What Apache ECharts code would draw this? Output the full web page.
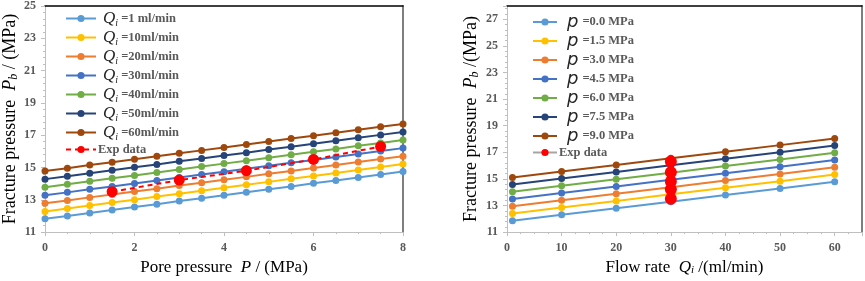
<!DOCTYPE html>
<html>
<head>
<meta charset="utf-8">
<script src="https://cdn.jsdelivr.net/npm/echarts@6/dist/echarts.min.js"></script>
<style>html,body{margin:0;padding:0;background:#fff}#c{width:865px;height:281px}</style>
</head>
<body>
<div id="c"></div>
<script>
// ---------- Left chart data ----------
var porePressure = [0,0.5,1,1.5,2,2.5,3,3.5,4,4.5,5,5.5,6,6.5,7,7.5,8];
var leftNames = ['=1 ml/min','=10ml/min','=20ml/min','=30ml/min','=40ml/min','=50ml/min','=60ml/min'];
var q1  = [11.82,12.00,12.18,12.37,12.55,12.73,12.92,13.10,13.28,13.47,13.65,13.83,14.02,14.20,14.38,14.57,14.75];
var q10 = [12.28,12.46,12.65,12.83,13.01,13.20,13.38,13.56,13.75,13.93,14.11,14.30,14.48,14.66,14.85,15.03,15.21];
var q20 = [12.78,12.96,13.15,13.33,13.51,13.69,13.88,14.06,14.24,14.42,14.61,14.79,14.97,15.15,15.34,15.52,15.70];
var q30 = [13.28,13.46,13.65,13.83,14.01,14.19,14.38,14.56,14.74,14.92,15.11,15.29,15.47,15.65,15.84,16.02,16.20];
var q40 = [13.78,13.96,14.15,14.33,14.51,14.69,14.88,15.06,15.24,15.42,15.61,15.79,15.97,16.15,16.34,16.52,16.70];
var q50 = [14.28,14.46,14.65,14.83,15.01,15.19,15.38,15.56,15.74,15.92,16.11,16.29,16.47,16.65,16.84,17.02,17.20];
var q60 = [14.78,14.96,15.15,15.33,15.51,15.69,15.88,16.06,16.24,16.42,16.61,16.79,16.97,17.15,17.34,17.52,17.70];
var expP = [1.5,3,4.5,6,7.5];
var expPb = [13.50,14.22,14.80,15.50,16.30];

// ---------- Right chart data ----------
var flowRate = [1,10,20,30,40,50,60];
var rightNames = ['=0.0 MPa','=1.5 MPa','=3.0 MPa','=4.5 MPa','=6.0 MPa','=7.5 MPa','=9.0 MPa'];
var p00 = [11.85,12.30,12.79,13.29,13.79,14.28,14.78];
var p15 = [12.40,12.85,13.34,13.84,14.34,14.83,15.33];
var p30 = [12.94,13.39,13.88,14.38,14.88,15.37,15.87];
var p45 = [13.49,13.94,14.43,14.93,15.43,15.92,16.42];
var p60 = [14.03,14.48,14.97,15.47,15.97,16.46,16.96];
var p75 = [14.58,15.03,15.52,16.02,16.52,17.01,17.51];
var p90 = [15.11,15.56,16.05,16.55,17.05,17.54,18.04];
var expQ = [30,30,30,30,30];
var expPb2 = [13.50,14.22,14.80,15.50,16.30];

var leftXTicks = [0,2,4,6,8];
var leftYTicks = [11,13,15,17,19,21,23,25];
var rightXTicks = [0,10,20,30,40,50,60];
var rightYTicks = [11,13,15,17,19,21,23,25,27];

var colors = ['#5B9BD5','#FFC000','#ED7D31','#4472C4','#70AD47','#264478','#9E480E'];
var SERIF = '"Liberation Serif","Times New Roman",serif';

function pairs(xs, ys){ return xs.map(function(x,i){ return [x, ys[i]]; }); }

var chart = echarts.init(document.getElementById('c'), null, {renderer:'canvas'});

var tickLabel = {fontFamily:SERIF, fontWeight:'bold', fontSize:12, color:'#595959'};
function mainX(grid, min, max, interval, nameRich, name, gap){
  return {
    type:'value', gridIndex:grid, min:min, max:max, interval:interval,
    axisLine:{show:true, lineStyle:{color:'#bfbfbf', width:1}},
    axisTick:{show:true, length:4, lineStyle:{color:'#bfbfbf'}},
    minorTick:{show:true, splitNumber:4, length:2, lineStyle:{color:'#bfbfbf'}},
    splitLine:{show:false},
    axisLabel:Object.assign({margin:10, showMaxLabel: max===8}, tickLabel),
    name:name, nameLocation:'middle', nameGap:gap,
    nameTextStyle:{fontFamily:SERIF, fontSize:17, color:'#000', rich:nameRich}
  };
}
function mainY(grid, min, max, nameStr, gap, hideMax){
  return {
    type:'value', gridIndex:grid, min:min, max:max, interval:2,
    axisLine:{show:true, lineStyle:{color:'#bfbfbf', width:1}},
    axisTick:{show:true, length:4, lineStyle:{color:'#bfbfbf'}},
    minorTick:{show:true, splitNumber:5, length:2, lineStyle:{color:'#bfbfbf'}},
    splitLine:{show:false},
    axisLabel:Object.assign({margin:9, showMaxLabel:!hideMax}, tickLabel),
    name:nameStr, nameLocation:'middle', nameGap:gap, nameRotate:90,
    nameTextStyle:{fontFamily:SERIF, fontSize:18, color:'#000', rich:{
      a:{fontFamily:SERIF, fontSize:18, color:'#000', lineHeight:20},
      b:{fontFamily:SERIF, fontSize:18, fontStyle:'italic', color:'#000', lineHeight:20},
      c:{fontFamily:SERIF, fontSize:12, fontStyle:'italic', color:'#000', lineHeight:12, verticalAlign:'bottom'}
    }}
  };
}
function borderX(grid, min, max){
  return {type:'value', gridIndex:grid, position:'top', min:min, max:max,
    axisLine:{show:true, onZero:false, lineStyle:{color:'#000', width:1.5}},
    axisTick:{show:false}, axisLabel:{show:false}, splitLine:{show:false}};
}
function borderY(grid, min, max){
  return {type:'value', gridIndex:grid, position:'right', min:min, max:max,
    axisLine:{show:true, onZero:false, lineStyle:{color:'#7f7f7f', width:2}},
    axisTick:{show:false}, axisLabel:{show:false}, splitLine:{show:false}};
}

var series = [];
var leftData = [q1,q10,q20,q30,q40,q50,q60];
leftData.forEach(function(arr, i){
  series.push({
    name:'L'+i, type:'line', xAxisIndex:0, yAxisIndex:0,
    data:pairs(porePressure, arr), symbol:'circle', symbolSize:7,
    lineStyle:{color:colors[i], width:2}, itemStyle:{color:colors[i]}, z:2
  });
});
series.push({
  name:'Lexp', type:'line', xAxisIndex:0, yAxisIndex:0,
  data:pairs(expP, expPb), symbol:'circle', symbolSize:11,
  lineStyle:{color:'#FF0000', width:2, type:[5,4]}, itemStyle:{color:'#FF0000'}, z:3
});
var rightData = [p00,p15,p30,p45,p60,p75,p90];
rightData.forEach(function(arr, i){
  series.push({
    name:'R'+i, type:'line', xAxisIndex:2, yAxisIndex:2,
    data:pairs(flowRate, arr), symbol:'circle', symbolSize:7,
    lineStyle:{color:colors[i], width:2}, itemStyle:{color:colors[i]}, z:2
  });
});
series.push({
  name:'Rexp', type:'line', xAxisIndex:2, yAxisIndex:2,
  data:pairs(expQ, expPb2), symbol:'circle', symbolSize:12,
  lineStyle:{color:'#a5a5a5', width:2}, itemStyle:{color:'#FF0000'}, z:3
});

var legendRich = {
  q:{fontFamily:SERIF, fontSize:17, fontStyle:'italic', color:'#262626', lineHeight:19, padding:[0,0,0,2]},
  i:{fontFamily:SERIF, fontSize:10, fontStyle:'italic', color:'#262626', lineHeight:12, verticalAlign:'bottom'},
  p:{fontFamily:'"DejaVu Sans",sans-serif', fontSize:18, fontStyle:'italic', color:'#262626', lineHeight:19, padding:[0,4,0,5]},
  t:{fontFamily:SERIF, fontSize:12.5, fontWeight:'bold', color:'#595959', lineHeight:19},
  e:{fontFamily:SERIF, fontSize:12.5, fontWeight:'bold', color:'#595959', lineHeight:19, padding:[0,0,0,-3]}
};

var option = {
  animation:false,
  backgroundColor:'#fff',
  grid:[
    {left:45, right:462, top:6, bottom:48},
    {left:507, right:3, top:6, bottom:48}
  ],
  xAxis:[
    mainX(0, 0, 8, 2, {p:{fontFamily:SERIF, fontSize:17, fontStyle:'italic', color:'#000'}}, 'Pore pressure  {p|P} / (MPa)', 26),
    borderX(0, 0, 8),
    mainX(1, 0, 65, 10, {q:{fontFamily:SERIF, fontSize:17, fontStyle:'italic', color:'#000'}, i:{fontFamily:SERIF, fontSize:11, fontStyle:'italic', color:'#000', verticalAlign:'bottom', lineHeight:12}}, 'Flow rate  {q|Q}{i|i} /(ml/min)', 26),
    borderX(1, 0, 65)
  ],
  yAxis:[
    mainY(0, 11, 25, '{a|Fracture pressure  }{b|P}{c|b}{a| / (MPa)}', 22, false),
    borderY(0, 11, 25),
    mainY(1, 11, 28, '{a|Fracture pressure  }{b|P}{c|b}{a| /(MPa)}', 26, true),
    borderY(1, 11, 28)
  ],
  legend:[
    {
      orient:'vertical', left:60, top:5, itemWidth:30, itemHeight:9, itemGap:1,
      data:['L0','L1','L2','L3','L4','L5','L6','Lexp'],
      formatter:function(n){
        if(n==='Lexp') return '{e|Exp data}';
        var k = +n.slice(1);
        return '{q|Q}{i|i}{t| ' + leftNames[k] + '}';
      },
      textStyle:{rich:legendRich}
    },
    {
      orient:'vertical', left:527, top:8, itemWidth:24, itemHeight:9, itemGap:1,
      data:['R0','R1','R2','R3','R4','R5','R6','Rexp'],
      formatter:function(n){
        if(n==='Rexp') return '{e|Exp data}';
        var k = +n.slice(1);
        return '{p|p}{t|' + rightNames[k] + '}';
      },
      textStyle:{rich:legendRich}
    }
  ],
  series:series
};
chart.setOption(option);
</script>
</body>
</html>
